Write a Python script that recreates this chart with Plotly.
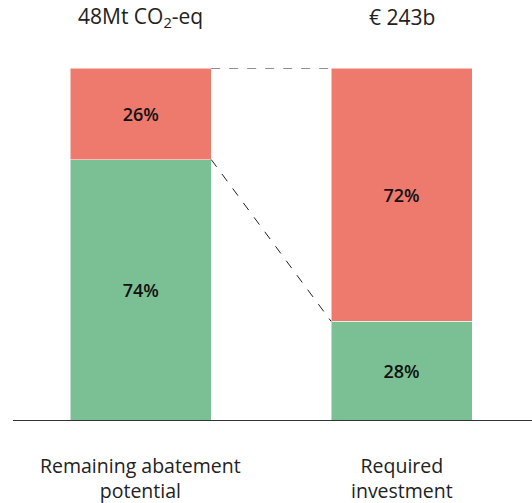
import plotly.graph_objects as go

categories = ["Remaining abatement<br>potential", "Required<br>investment"]
totals = ["48Mt CO<sub>2</sub>-eq", "€ 243b"]
green_share = [74, 28]
red_share = [26, 72]

GREEN = "#7BBF94"
RED = "#EE7A6E"
BAR_WIDTH = 0.54
FONT = "Open Sans"

x = [0, 1]

fig = go.Figure()
fig.add_trace(go.Bar(
    x=x, y=green_share, width=BAR_WIDTH,
    marker=dict(color=GREEN, line=dict(color="white", width=0.5)),
    text=[f"{v}%" for v in green_share], textposition="inside",
    insidetextanchor="middle",
    textfont=dict(family=FONT, size=18, color="#111111", weight=600),
))
fig.add_trace(go.Bar(
    x=x, y=red_share, width=BAR_WIDTH,
    marker=dict(color=RED, line=dict(color="white", width=0.5)),
    text=[f"{v}%" for v in red_share], textposition="inside",
    insidetextanchor="middle",
    textfont=dict(family=FONT, size=18, color="#111111", weight=600),
))

# dashed connectors between the bars
half = BAR_WIDTH / 2
fig.add_shape(type="line", xref="x", yref="y",
              x0=x[0] + half, y0=green_share[0] + red_share[0],
              x1=x[1] - half, y1=green_share[1] + red_share[1],
              line=dict(color="#222222", width=1, dash="dash"))
fig.add_shape(type="line", xref="x", yref="y",
              x0=x[0] + half, y0=green_share[0],
              x1=x[1] - half, y1=green_share[1],
              line=dict(color="#222222", width=1, dash="dash"))

for xi, t in zip(x, totals):
    fig.add_annotation(x=xi, xref="x", y=1, yref="paper", yshift=51,
                       yanchor="middle", text=t, showarrow=False,
                       font=dict(family=FONT, size=21, color="#222222"))
for xi, c in zip(x, categories):
    fig.add_annotation(x=xi, xref="x", y=0, yref="paper", yshift=-58,
                       yanchor="middle", text=c, showarrow=False,
                       font=dict(family=FONT, size=19.5, color="#222222"))

fig.update_layout(
    barmode="stack",
    width=532, height=503,
    margin=dict(l=13, r=0, t=68, b=83),
    plot_bgcolor="white", paper_bgcolor="white",
    showlegend=False,
    xaxis=dict(range=[-0.49, 1.5], showticklabels=False, showgrid=False,
               zeroline=False, showline=True, linecolor="#333333", linewidth=1),
    yaxis=dict(range=[0, 100], visible=False),
)

fig.write_html("out.html", config={"displayModeBar": False},
               post_script="document.body.style.margin='0';")
